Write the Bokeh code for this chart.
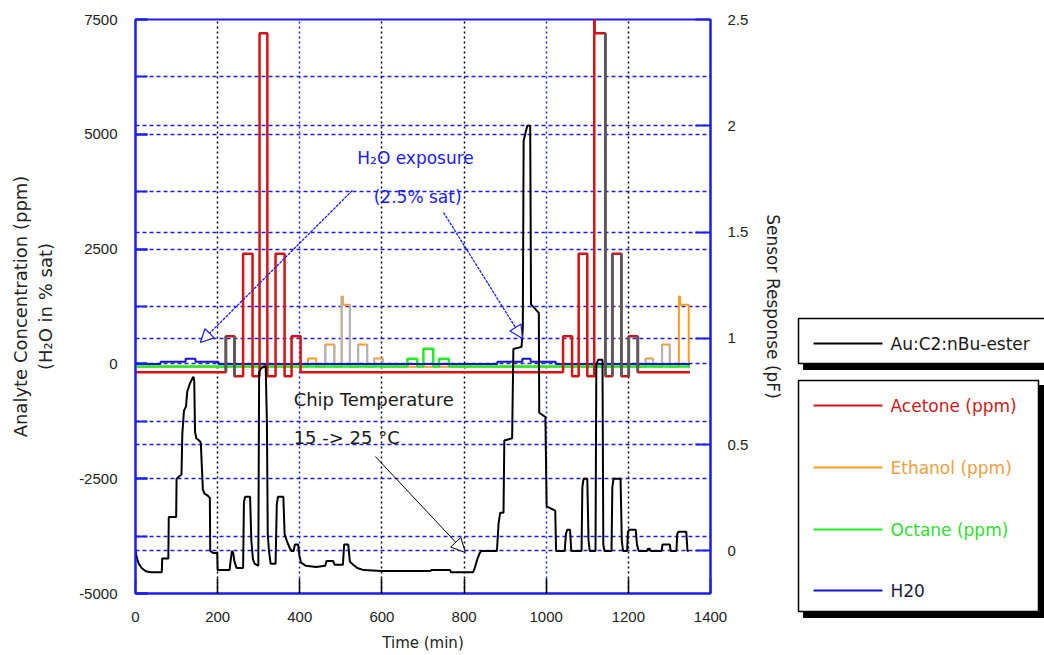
from bokeh.plotting import figure
from bokeh.layouts import row
from bokeh.models import (Range1d, LinearAxis, SingleIntervalTicker, FixedTicker, Grid,
                          Label, Arrow, NormalHead, CustomJSTickFormatter)
from bokeh.core.properties import value
from bokeh.embed import file_html
from bokeh.resources import INLINE

# ---------------------------------------------------------------------------
# Sensor response of the Au:C2:nBu-ester chemiresistor (pF) vs time (min)
# ---------------------------------------------------------------------------
sensor_t = [0, 3, 8, 15, 25, 37, 64, 65, 80, 81, 99, 100, 106, 112, 114, 118, 123, 126,
            133, 138, 141, 143, 145, 148, 155, 159, 161, 164, 168, 176, 181, 182, 190,
            199, 200, 229, 232, 235, 238, 241, 246, 262, 264, 267, 279, 282, 286, 290,
            299, 301, 306, 317, 320, 322, 325, 329, 341, 344, 347, 360, 363, 368, 374,
            380, 385, 388, 396, 399, 403, 415, 440, 462, 465, 481, 485, 505, 508, 518,
            522, 530, 540, 556, 600, 718, 720, 766, 768, 800, 822, 826, 832, 838, 842,
            880, 884, 888, 896, 898, 917, 920, 940, 943, 945, 950, 954, 961, 963, 982,
            983, 998, 1001, 1022, 1024, 1045, 1048, 1051, 1058, 1061, 1086, 1088, 1091,
            1100, 1103, 1106, 1120, 1122, 1127, 1137, 1139, 1142, 1159, 1161, 1164,
            1181, 1184, 1187, 1197, 1199, 1202, 1218, 1221, 1225, 1245, 1248, 1252,
            1255, 1281, 1283, 1301, 1303, 1317, 1319, 1322, 1341, 1344, 1347]
sensor_pf = [0.0, -0.03, -0.06, -0.08, -0.095, -0.10, -0.10, -0.035, -0.035, 0.16, 0.16,
             0.34, 0.35, 0.36, 0.55, 0.66, 0.68, 0.75, 0.79, 0.81, 0.82, 0.80, 0.56,
             0.53, 0.52, 0.51, 0.42, 0.29, 0.27, 0.26, 0.25, 0.0, -0.01, -0.01, -0.09,
             -0.09, -0.04, 0.0, -0.01, -0.05, -0.08, -0.08, 0.23, 0.255, 0.255, 0.05,
             -0.04, -0.06, -0.07, 0.84, 0.86, 0.87, 0.60, 0.08, 0.0, -0.06, -0.06, 0.22,
             0.255, 0.255, 0.08, 0.05, 0.02, 0.0, 0.0, 0.03, 0.03, -0.02, -0.055, -0.07,
             -0.075, -0.07, -0.047, -0.047, -0.065, -0.065, 0.03, 0.03, -0.05, -0.065,
             -0.08, -0.09, -0.094, -0.094, -0.09, -0.09, -0.10, -0.10, -0.10, -0.08,
             -0.04, -0.01, 0.0, 0.0, 0.13, 0.18, 0.18, 0.52, 0.53, 0.95, 0.96, 1.05,
             1.93, 1.97, 2.0, 2.0, 1.16, 1.12, 0.65, 0.63, 0.21, 0.19, 0.0, 0.0, 0.08,
             0.10, 0.10, 0.0, 0.0, 0.30, 0.34, 0.34, 0.05, 0.0, 0.0, 0.88, 0.90, 0.90,
             0.03, 0.0, 0.0, 0.30, 0.34, 0.34, 0.05, 0.0, 0.0, 0.09, 0.10, 0.10, 0.03,
             0.0, 0.0, 0.01, 0.01, 0.0, 0.0, 0.03, 0.03, 0.0, 0.0, 0.08, 0.09, 0.09,
             0.0, 0.0]

# ---------------------------------------------------------------------------
# Analyte dosing programme (ppm): pulse start / stop (min), set level, peak
# ---------------------------------------------------------------------------
run_end = 1350

acetone_start = [220, 262, 302, 341, 380, 1041, 1079, 1117, 1161, 1201]
acetone_stop = [241, 285, 321, 363, 402, 1063, 1100, 1144, 1183, 1223]
acetone_level = [600, 2400, 7200, 2400, 600, 600, 2400, 7200, 2400, 600]
acetone_peak = [600, 2400, 7200, 2400, 600, 600, 2400, 7700, 2400, 600]
acetone_base = -180
acetone_gap = -270

ethanol_start = [420, 462, 502, 542, 581, 1242, 1282, 1323]
ethanol_stop = [440, 484, 522, 564, 602, 1260, 1301, 1347]
ethanol_level = [120, 420, 1290, 420, 120, 120, 420, 1290]
ethanol_peak = [120, 420, 1470, 420, 120, 120, 420, 1470]
ethanol_base = -60

octane_start = [662, 701, 739]
octane_stop = [686, 725, 763]
octane_level = [110, 330, 110]
octane_base = -55

# water exposure (% sat, plotted on the concentration axis)
h2o_t = [0, 61, 122, 146, 202, 881, 942, 962, 1023, run_end]
h2o_level = [0, 45, 110, 45, 0, 45, 110, 45, 0, 0]

# axis ticks / grid positions
time_ticks = [0, 200, 400, 600, 800, 1000, 1200, 1400]
grid_time_black = [200, 600, 800, 1200]
grid_time_blue = [400, 1000]
grid_conc = [-3750, -2500, -1250, 0, 1250, 2500, 3750, 5000, 6250]
grid_pf = [0, 0.5, 1.0, 1.5, 2.0]

BLUE = "#1c1cf4"
RED = "#d41414"
ORANGE = "#ff9c22"
GREEN = "#22ec22"
H2O_BLUE = "#1414d2"
FONT = "DejaVu Sans"
TICK_FONT = "Liberation Sans"

# which pulse edges the plotter rendered in a neutral tone
acetone_edge_style = ["both", None, None, None, None, None, None, "right", "both", "both"]
ethanol_edge_style = [None, "both", "both", "both", "both", "both", "both", None]


def pulse_trace(starts, stops, levels, peaks, base, gap, t_end, peak_len):
    """Build a stepped concentration trace from a list of dosing pulses.

    Also returns the vertical edges of every pulse as (t, v_from, v_to, side, index)."""
    t, v = [0.0], [base]
    edges = []
    cur = base
    n = len(starts)
    for i in range(n):
        s, e, lvl, pk = starts[i], stops[i], levels[i], peaks[i]
        close_next = i + 1 < n and starts[i + 1] - e < 30
        after = gap if close_next else base
        t += [s, s]
        v += [cur, pk]
        edges.append((s, cur, pk, "left", i))
        if pk != lvl:
            t += [s + peak_len, s + peak_len]
            v += [pk, lvl]
        t += [e, e]
        v += [lvl, after]
        edges.append((e, lvl, after, "right", i))
        cur = after
    t.append(t_end)
    v.append(cur)
    return t, v, edges


def styled_edges(edges, styles):
    xs, y0, y1 = [], [], []
    for (te, va, vb, side, i) in edges:
        st = styles[i]
        if st == "both" or st == side:
            xs.append(te)
            y0.append(va)
            y1.append(vb)
    return xs, y0, y1


ac_t, ac_v, ac_edges = pulse_trace(acetone_start, acetone_stop, acetone_level, acetone_peak,
                                   acetone_base, acetone_gap, run_end, 1.0)
et_t, et_v, et_edges = pulse_trace(ethanol_start, ethanol_stop, ethanol_level, ethanol_peak,
                                   ethanol_base, ethanol_base, run_end, 3.0)
oc_t, oc_v, _ = pulse_trace(octane_start, octane_stop, octane_level, octane_level,
                            octane_base, octane_base, run_end, 0.0)

plain_number = CustomJSTickFormatter(code="return tick.toString();")

# ---------------------------------------------------------------------------
# Main chart
# ---------------------------------------------------------------------------
p = figure(width=790, height=655, x_range=Range1d(0, 1400), y_range=Range1d(-5000, 7500),
           output_backend="svg", toolbar_location=None,
           min_border_left=135, min_border_right=80, min_border_top=19,
           min_border_bottom=62)
p.extra_y_ranges = {"sensor": Range1d(-0.2, 2.5)}
p.background_fill_color = "white"
p.border_fill_color = "white"
p.outline_line_color = BLUE
p.outline_line_width = 2
p.xgrid.grid_line_color = None
p.ygrid.grid_line_color = None

# grids
p.add_layout(Grid(dimension=0, ticker=FixedTicker(ticks=grid_time_black),
                  grid_line_color="black", grid_line_dash="2 3", grid_line_width=1.5))
p.add_layout(Grid(dimension=0, ticker=FixedTicker(ticks=grid_time_blue),
                  grid_line_color=BLUE, grid_line_dash="2 3", grid_line_width=1.5))
p.add_layout(Grid(dimension=1, ticker=FixedTicker(ticks=grid_conc),
                  grid_line_color=BLUE, grid_line_dash="4 3", grid_line_width=1.3))
p.add_layout(Grid(dimension=1, y_range_name="sensor", ticker=FixedTicker(ticks=grid_pf),
                  grid_line_color=BLUE, grid_line_dash="4 3", grid_line_width=1.3))

# bottom axis
xa = p.xaxis[0]
xa.ticker = FixedTicker(ticks=time_ticks)
xa.formatter = plain_number
xa.axis_label = "Time (min)"
xa.axis_line_color = BLUE
xa.axis_line_width = 2
xa.major_tick_in = 15
xa.major_tick_out = 0
xa.major_tick_line_color = "black"
xa.major_tick_line_width = 1.5
xa.minor_tick_line_color = None
xa.major_label_standoff = 18
xa.major_label_text_font = TICK_FONT
xa.major_label_text_font_size = "15px"
xa.major_label_text_color = "#222222"
xa.axis_label_text_font = FONT
xa.axis_label_text_font_size = "15px"
xa.axis_label_text_font_style = "normal"
xa.axis_label_text_color = "#222222"
xa.axis_label_standoff = 9

# left axis
ya = p.yaxis[0]
ya.ticker = SingleIntervalTicker(interval=2500, num_minor_ticks=2)
ya.formatter = plain_number
ya.axis_label = "Analyte Concentration (ppm)\n(H\u2082O in % sat)"
ya.axis_line_color = BLUE
ya.axis_line_width = 2
ya.major_tick_in = 12
ya.major_tick_out = 0
ya.minor_tick_in = 12
ya.minor_tick_out = 0
ya.major_tick_line_color = BLUE
ya.minor_tick_line_color = BLUE
ya.major_tick_line_width = 2
ya.minor_tick_line_width = 2
ya.major_label_standoff = 18
ya.major_label_text_font = TICK_FONT
ya.major_label_text_font_size = "15px"
ya.major_label_text_color = "#222222"
ya.axis_label_text_font = FONT
ya.axis_label_text_font_size = "18px"
ya.axis_label_text_font_style = "normal"
ya.axis_label_text_color = "#222222"
ya.axis_label_standoff = 20

# right axis (sensor response)
ra = LinearAxis(y_range_name="sensor",
                ticker=SingleIntervalTicker(interval=0.5, num_minor_ticks=0),
                formatter=plain_number,
                axis_label="Sensor Response (pF)")
ra.axis_line_color = BLUE
ra.axis_line_width = 2
ra.major_tick_in = 15
ra.major_tick_out = 0
ra.major_tick_line_color = BLUE
ra.major_tick_line_width = 2
ra.minor_tick_line_color = None
ra.major_label_standoff = 17
ra.major_label_text_font = TICK_FONT
ra.major_label_text_font_size = "15px"
ra.major_label_text_color = "#222222"
ra.axis_label_text_font = FONT
ra.axis_label_text_font_size = "17px"
ra.axis_label_text_font_style = "normal"
ra.axis_label_text_color = "#222222"
ra.axis_label_standoff = 12
p.add_layout(ra, "right")

# concentration traces
p.line(et_t, et_v, line_color=ORANGE, line_width=2)
ex, ey0, ey1 = styled_edges(et_edges, ethanol_edge_style)
p.segment(x0=ex, x1=ex, y0=ey0, y1=ey1, line_color="#b4b4b4", line_width=2.2)
p.line(oc_t, oc_v, line_color=GREEN, line_width=2.5)
p.step(h2o_t, h2o_level, mode="after", line_color=H2O_BLUE, line_width=2)
p.line(ac_t, ac_v, line_color=RED, line_width=2.5)
ax_, ay0, ay1 = styled_edges(ac_edges, acetone_edge_style)
p.segment(x0=ax_, x1=ax_, y0=ay0, y1=ay1, line_color="#5a5a5a", line_width=2.8)

# sensor trace on the right-hand axis
p.line(sensor_t, sensor_pf, y_range_name="sensor", line_color="black", line_width=2)

# annotations
p.add_layout(Label(x=540, y=4473, text="H\u2082O exposure", text_font=FONT,
                   text_font_size="17px", text_color=BLUE, text_baseline="middle"))
p.add_layout(Label(x=580, y=3645, text="(2.5% sat)", text_font=FONT,
                   text_font_size="17px", text_color=BLUE, text_baseline="middle"))
p.add_layout(Label(x=385, y=-775, text="Chip Temperature", text_font=FONT,
                   text_font_size="18px", text_color="#1a1a1a", text_baseline="middle"))
p.add_layout(Label(x=385, y=-1603, text="15 -> 25 \u00b0C", text_font=FONT,
                   text_font_size="18px", text_color="#1a1a1a", text_baseline="middle"))

p.add_layout(Arrow(end=NormalHead(size=13, fill_color="white", line_color=BLUE, line_width=1.2),
                   x_start=528, y_start=3776, x_end=158, y_end=466,
                   line_color=BLUE, line_width=1.3, line_dash="3 1"))
p.add_layout(Arrow(end=NormalHead(size=13, fill_color="white", line_color=BLUE, line_width=1.2),
                   x_start=750, y_start=3297, x_end=942, y_end=553,
                   line_color=BLUE, line_width=1.3, line_dash="3 1"))
p.add_layout(Arrow(end=NormalHead(size=14, fill_color="white", line_color="black", line_width=1),
                   x_start=584, y_start=-2017, x_end=803, y_end=-4107,
                   line_color="black", line_width=1))

# ---------------------------------------------------------------------------
# Legend panel (pixel-like coordinates, y downwards)
# ---------------------------------------------------------------------------
legend_labels = ["Au:C2:nBu-ester", "Acetone (ppm)", "Ethanol (ppm)", "Octane (ppm)", "H20"]
legend_line_colors = ["black", RED, ORANGE, GREEN, H2O_BLUE]
legend_text_colors = ["#1a1a1a", "#cc1a1a", "#eea040", "#30dd30", "#1a1a3a"]
legend_rows = [343, 405, 467, 529, 590]

lg = figure(width=254, height=655, x_range=Range1d(0, 254), y_range=Range1d(655, 0),
            output_backend="svg", toolbar_location=None,
            min_border_left=0, min_border_right=0, min_border_top=0, min_border_bottom=0)
lg.frame_align = False
lg.axis.visible = False
lg.grid.visible = False
lg.outline_line_color = None
lg.background_fill_color = "white"
lg.border_fill_color = "white"

# box outlines with drop shadows
lg.quad(left=[13, 13], right=[270, 254], top=[323, 385], bottom=[369, 617],
        fill_color="black", line_color="black")
lg.quad(left=[8, 8], right=[265, 248], top=[318, 380], bottom=[363, 611],
        fill_color="white", line_color="black", line_width=1.5)

lg.segment(x0=[23] * 5, x1=[92] * 5, y0=legend_rows, y1=legend_rows,
           line_color=legend_line_colors, line_width=2)
lg.text(x=[100] * 5, y=legend_rows, text=legend_labels, text_color=legend_text_colors,
        text_font=value("DejaVu Sans"), text_font_size=value("17px"),
        text_baseline="middle")

layout = row(p, lg)
open("out.html", "w").write(file_html(layout, INLINE))
